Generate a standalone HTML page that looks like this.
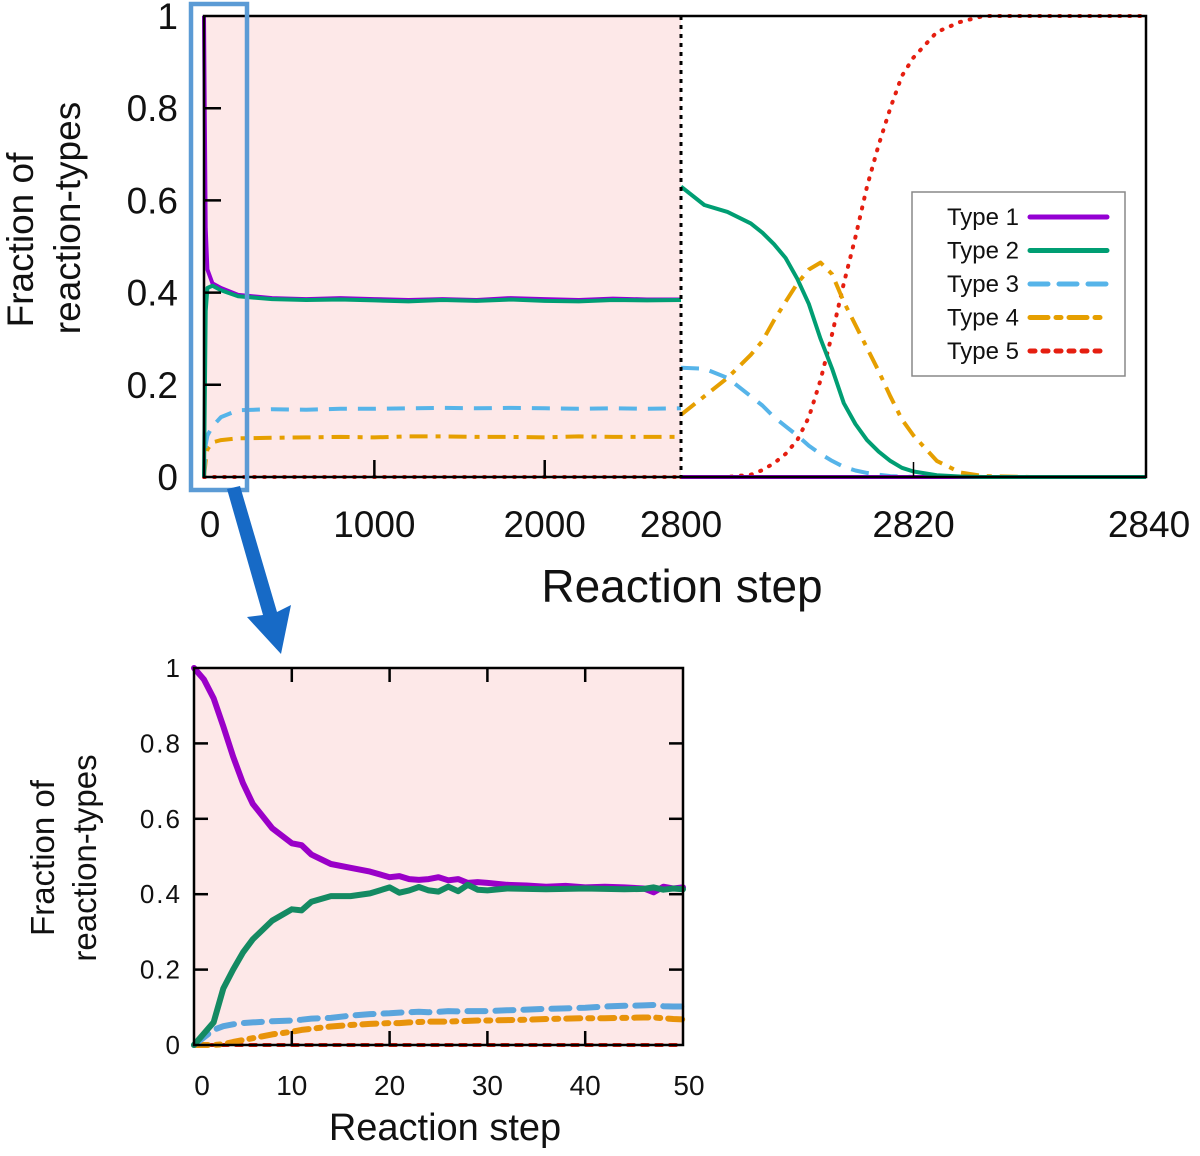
<!DOCTYPE html>
<html><head><meta charset="utf-8"><style>
html,body{margin:0;padding:0;background:#fff;}
svg text{font-family:"Liberation Sans",sans-serif;fill:#111;}
</style></head><body>
<svg id="fig" width="1200" height="1151" viewBox="0 0 1200 1151" xmlns="http://www.w3.org/2000/svg">
<g id="top"></g>
<g id="bot"></g>
</svg>
<script>
// ---- main chart data (left segment 0..2800) ----
const leftSteps=[0,10,20,50,100,200,400,600,800,1000,1200,1400,1600,1800,2000,2200,2400,2600,2800];
const t1L=[1,0.54,0.45,0.42,0.41,0.395,0.388,0.386,0.388,0.386,0.384,0.386,0.384,0.388,0.386,0.384,0.387,0.385,0.385];
const t2L=[0,0.36,0.41,0.415,0.405,0.392,0.386,0.384,0.385,0.383,0.381,0.384,0.382,0.385,0.382,0.381,0.384,0.383,0.384];
const t3L=[0,0.07,0.09,0.11,0.13,0.145,0.147,0.146,0.148,0.148,0.149,0.150,0.149,0.150,0.149,0.148,0.149,0.148,0.149];
const t4L=[0,0.035,0.06,0.075,0.08,0.084,0.085,0.086,0.087,0.086,0.088,0.088,0.087,0.087,0.086,0.088,0.087,0.087,0.087];
const t5L=[0,0,0,0,0,0,0,0,0,0,0,0,0,0,0,0,0,0,0];
// ---- main chart data (right segment 2800..2840) ----
const rightSteps=[2800,2802,2804,2806,2807,2808,2809,2810,2811,2812,2813,2814,2815,2816,2817,2818,2819,2820,2822,2824,2826,2830,2840];
const t1R=[0,0,0,0,0,0,0,0,0,0,0,0,0,0,0,0,0,0,0,0,0,0,0];
const t2R=[0.63,0.59,0.575,0.55,0.53,0.505,0.475,0.43,0.375,0.3,0.235,0.16,0.115,0.08,0.055,0.035,0.02,0.012,0.004,0.001,0,0,0];
const t3R=[0.237,0.235,0.215,0.175,0.155,0.13,0.11,0.09,0.068,0.05,0.035,0.022,0.014,0.009,0.005,0.002,0.001,0,0,0,0,0,0];
const t4R=[0.135,0.175,0.215,0.265,0.295,0.34,0.38,0.42,0.45,0.465,0.44,0.38,0.33,0.28,0.23,0.175,0.125,0.09,0.035,0.01,0.002,0,0];
const t5R=[0,0,0,0.005,0.015,0.03,0.05,0.08,0.13,0.21,0.31,0.42,0.52,0.63,0.72,0.80,0.87,0.91,0.965,0.987,1,1,1];
const yTicks=[0,0.2,0.4,0.6,0.8,1];
const yTickLabels=["0","0.2","0.4","0.6","0.8","1"];
const xTicksL=[0,1000,2000];
const xTicksR=[2800,2820,2840];
const legendLabels=["Type 1","Type 2","Type 3","Type 4","Type 5"];
// ---- inset data (0..50) ----
const stepsB=[0,1,2,3,4,5,6,8,10,11,12,14,16,18,20,21,22,23,24,25,26,27,28,29,30,32,34,36,38,40,42,44,46,47,48,49,50];
const t1B=[1,0.97,0.92,0.845,0.765,0.695,0.64,0.575,0.535,0.53,0.505,0.48,0.47,0.46,0.445,0.448,0.44,0.438,0.44,0.445,0.437,0.44,0.43,0.432,0.43,0.425,0.423,0.42,0.422,0.418,0.42,0.418,0.415,0.405,0.42,0.415,0.418];
const t2B=[0,0.03,0.06,0.15,0.2,0.245,0.28,0.33,0.36,0.357,0.38,0.395,0.395,0.402,0.418,0.404,0.41,0.419,0.41,0.407,0.42,0.408,0.425,0.412,0.41,0.415,0.414,0.413,0.414,0.415,0.414,0.413,0.414,0.418,0.412,0.415,0.413];
const t3B=[0,0.02,0.04,0.05,0.055,0.058,0.06,0.063,0.065,0.067,0.07,0.072,0.078,0.082,0.084,0.086,0.087,0.088,0.087,0.088,0.09,0.089,0.09,0.09,0.09,0.092,0.094,0.096,0.097,0.099,0.102,0.104,0.105,0.106,0.103,0.102,0.102];
const t4B=[0,0,0,0.002,0.008,0.013,0.018,0.028,0.035,0.04,0.043,0.049,0.053,0.056,0.058,0.058,0.06,0.061,0.062,0.062,0.062,0.063,0.064,0.065,0.065,0.066,0.067,0.069,0.07,0.071,0.071,0.072,0.073,0.073,0.071,0.069,0.068];
const t5B=stepsB.map(()=>0);
const xTicksB=[0,10,20,30,40,50];

const NS="http://www.w3.org/2000/svg";
function mk(parent,tag,attrs,text){const e=document.createElementNS(NS,tag);for(const k in attrs)e.setAttribute(k,attrs[k]);if(text!==undefined)e.textContent=text;parent.appendChild(e);return e;}
const styles=[
 {c:"#9400d3",d:""},
 {c:"#009e73",d:""},
 {c:"#56b4e9",d:"18,11"},
 {c:"#e69f00",d:"18,8,5,8"},
 {c:"#e51e10",d:"1,9"}];
function pathOf(xs,vs,fx,fy){return xs.map((s,i)=>(i?"L":"M")+fx(s).toFixed(1)+","+fy(vs[i]).toFixed(1)).join("");}

// ===== main chart =====
const T=document.getElementById("top");
const X0=204,XB=681,XE=1146,Y0=477,Y1=16;
const xL=s=>X0+s*(XB-X0)/2800;
const xR=s=>XB+(s-2800)*(XE-XB)/40;
const yT=v=>Y0-v*(Y0-Y1);
let e;
e=mk(T,"rect",{x:X0,y:Y1,width:XB-X0,height:Y0-Y1,fill:"#fde8e8"});

const seriesL=[t1L,t2L,t3L,t4L,t5L], seriesR=[t1R,t2R,t3R,t4R,t5R];
[4,3,2,0,1].forEach(i=>{
 const st=styles[i];
 e=mk(T,"path",{d:pathOf(leftSteps,seriesL[i],xL,yT),fill:"none",stroke:st.c,"stroke-width":4,"stroke-dasharray":st.d,"stroke-linejoin":"round","stroke-linecap":i==4?"round":"butt"});
 
 e=mk(T,"path",{d:pathOf(rightSteps,seriesR[i],xR,yT),fill:"none",stroke:st.c,"stroke-width":4,"stroke-dasharray":st.d,"stroke-linejoin":"round","stroke-linecap":i==4?"round":"butt"});
 
});
e=mk(T,"line",{x1:XB,y1:Y1,x2:XB,y2:Y0,stroke:"#000","stroke-width":3,"stroke-dasharray":"4,5"});

e=mk(T,"rect",{x:X0,y:Y1,width:XE-X0,height:Y0-Y1,fill:"none",stroke:"#000","stroke-width":2.5});

yTicks.forEach((v,i)=>{
 if(v>0&&v<1){e=mk(T,"line",{x1:X0,x2:X0+17,y1:yT(v),y2:yT(v),stroke:"#000","stroke-width":2.5});
 }
 e=mk(T,"text",{x:178,y:yT(v)+13,"font-size":37,"text-anchor":"end"},yTickLabels[i]);
 
});
xTicksL.forEach(s=>{
 if(s>0){e=mk(T,"line",{x1:xL(s),x2:xL(s),y1:Y0,y2:Y0-17,stroke:"#000","stroke-width":2.5});
 }
 e=mk(T,"text",{x:xL(s)+(s==0?6:0),y:537,"font-size":37,"text-anchor":"middle"},String(s));
 
});
xTicksR.forEach(s=>{
 if(s>2800&&s<2840){e=mk(T,"line",{x1:xR(s),x2:xR(s),y1:Y0,y2:Y0-15,stroke:"#000","stroke-width":1.5});
 }
 e=mk(T,"text",{x:xR(s)+(s==2840?3:0),y:537,"font-size":37,"text-anchor":"middle"},String(s));
 
});
e=mk(T,"text",{x:682,y:602,"font-size":46,"text-anchor":"middle"},"Reaction step");

e=mk(T,"text",{transform:"translate(33,240) rotate(-90)","font-size":37,"text-anchor":"middle"},"Fraction of");

e=mk(T,"text",{transform:"translate(80,218) rotate(-90)","font-size":37,"text-anchor":"middle"},"reaction-types");

// legend
const LG=mk(T,"g",{});

e=mk(LG,"rect",{x:912,y:192,width:213,height:184,fill:"#fff",stroke:"#888","stroke-width":1.5});

legendLabels.forEach((lab,i)=>{
 const y=217+i*33.5;
 const g=mk(LG,"g",{});
 
 mk(g,"text",{x:1019,y:y+8,"font-size":24,"text-anchor":"end"},lab);
 mk(g,"line",{x1:1030,x2:1107,y1:y,y2:y,stroke:styles[i].c,"stroke-width":5,"stroke-dasharray":i==4?"5,8":styles[i].d,"stroke-linecap":"round"});
});
// highlight box & arrow
e=mk(T,"rect",{x:191,y:4,width:56,height:486,fill:"none",stroke:"#5b9bd5","stroke-width":4.5});

e=mk(T,"polygon",{points:"227,489 240,486 277,612 291,605 281,654 247,617 263,615",fill:"#176ac6"});


// ===== inset chart =====
const B=document.getElementById("bot");
const BX0=194,BX1=683,BY0=1045,BY1=668;
const xB=s=>BX0+s*(BX1-BX0)/50;
const yB=v=>BY0-v*(BY0-BY1);
e=mk(B,"rect",{x:BX0,y:BY1,width:BX1-BX0,height:BY0-BY1,fill:"#fde8e8"});

const seriesB=[t1B,t2B,t3B,t4B,t5B];
const bCols=["#9a00c8","#148a62","#5aa5dd","#e8930a","#e0200e"];
const bDash=["","","18,10","14,8,4,8","6,8"];
[4,3,2,0,1].forEach(i=>{
 e=mk(B,"path",{d:pathOf(stepsB,seriesB[i],xB,yB),fill:"none",stroke:bCols[i],"stroke-width":i==4?4:6,"stroke-dasharray":bDash[i],"stroke-linejoin":"round","stroke-linecap":"round"});
 
});
e=mk(B,"rect",{x:BX0,y:BY1,width:BX1-BX0,height:BY0-BY1,fill:"none",stroke:"#000","stroke-width":2.5});

yTicks.forEach((v,i)=>{
 if(v>0&&v<1){
  e=mk(B,"line",{x1:BX0,x2:BX0+14,y1:yB(v),y2:yB(v),stroke:"#000","stroke-width":2.5});
  
  e=mk(B,"line",{x1:BX1,x2:BX1-14,y1:yB(v),y2:yB(v),stroke:"#000","stroke-width":2.5});
  
 }
 e=mk(B,"text",{x:182,y:yB(v)+9,"font-size":26,"text-anchor":"end","letter-spacing":"2"},yTickLabels[i]);
 
});
xTicksB.forEach(s=>{
 if(s>0&&s<50){
  e=mk(B,"line",{x1:xB(s),x2:xB(s),y1:BY0,y2:BY0-14,stroke:"#000","stroke-width":2.5});
  
  e=mk(B,"line",{x1:xB(s),x2:xB(s),y1:BY1,y2:BY1+14,stroke:"#000","stroke-width":2.5});
  
 }
 e=mk(B,"text",{x:xB(s)+(s==0?8:s==50?6:0),y:1095,"font-size":28,"text-anchor":"middle"},String(s));
 
});
e=mk(B,"text",{x:445,y:1140,"font-size":38,"text-anchor":"middle"},"Reaction step");

e=mk(B,"text",{transform:"translate(54,858) rotate(-90)","font-size":33,"text-anchor":"middle"},"Fraction of");

e=mk(B,"text",{transform:"translate(96,858) rotate(-90)","font-size":33,"text-anchor":"middle"},"reaction-types");

</script>
</body></html>
